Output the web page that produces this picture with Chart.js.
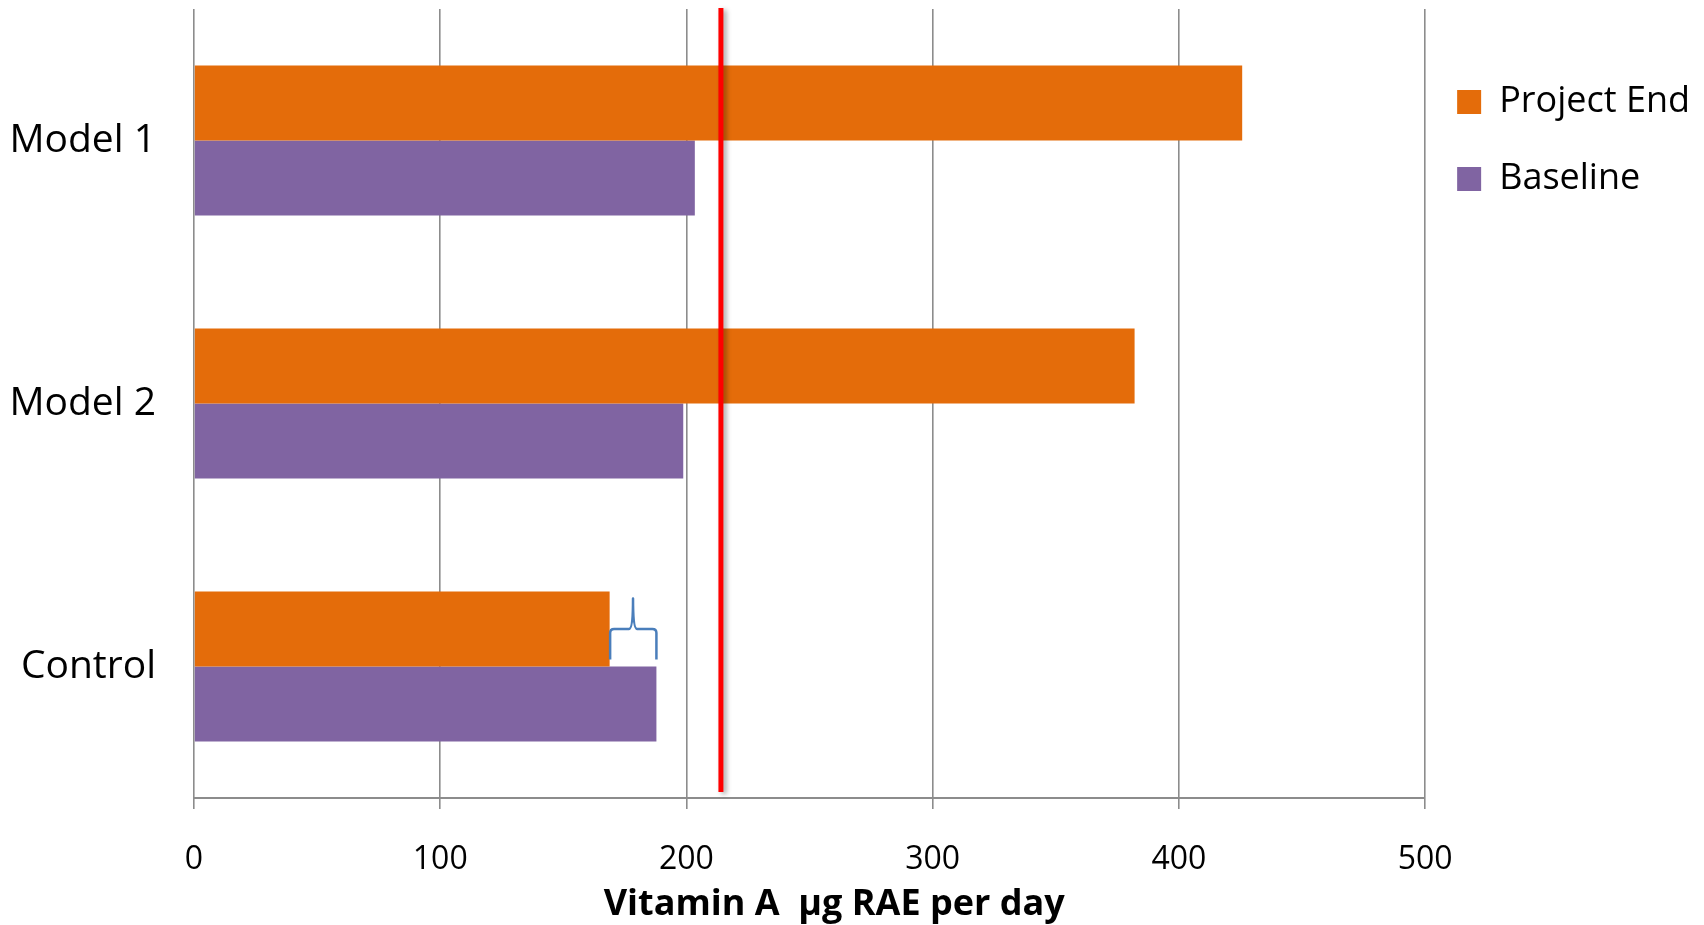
<!DOCTYPE html>
<html>
<head>
<meta charset="utf-8">
<script src="https://cdn.jsdelivr.net/npm/chart.js@4/dist/chart.umd.min.js"></script>
<style>
  html, body { margin: 0; padding: 0; background: #ffffff; }
  #wrap { width: 1704px; height: 925px; position: relative; }
</style>
</head>
<body>
<div id="wrap"><canvas id="chart" width="1704" height="925"></canvas></div>
<script>
// Vitamin A intake by group, µg RAE per day
const categories = ['Model 1', 'Model 2', 'Control'];
const projectEnd = [425.7, 382.0, 168.8];
const baseline = [203.4, 198.7, 187.8];
const xTicks = [0, 100, 200, 300, 400, 500];
const referenceValue = 214;
const axisTitle = 'Vitamin A  µg RAE per day';
const seriesNames = ['Project End', 'Baseline'];

const FONT = '"Open Sans", "DejaVu Sans", sans-serif';
const GRID = '#8c8c8c';

// Red reference line, the brace between the two Control bars, and the axis title
const overlays = {
  id: 'overlays',
  afterLayout(chart) {
    // place the legend beside the top category
    const lg = chart.legend;
    if (lg) { lg.top += 34; lg.bottom += 34; lg.left -= 9; lg.right -= 9; }
  },
  afterDatasetsDraw(chart) {
    const { ctx, chartArea, scales } = chart;
    const x = scales.x;

    // reference line
    const rx = x.getPixelForValue(referenceValue);
    ctx.save();
    ctx.shadowColor = 'rgba(0,0,0,0.35)';
    ctx.shadowBlur = 5;
    ctx.shadowOffsetX = 3;
    ctx.shadowOffsetY = 2;
    ctx.strokeStyle = '#ff0000';
    ctx.lineWidth = 5;
    ctx.beginPath();
    ctx.moveTo(rx, chartArea.top - 1);
    ctx.lineTo(rx, chartArea.bottom - 6);
    ctx.stroke();
    ctx.restore();

    // curly brace spanning the Control change
    const ci = categories.indexOf('Control');
    const bar = chart.getDatasetMeta(0).data[ci];
    const x1 = x.getPixelForValue(projectEnd[ci]);
    const x2 = x.getPixelForValue(baseline[ci]);
    const top = bar.y - bar.height / 2 + 7;
    const bot = bar.y + bar.height / 2 - 7;
    const mid = bar.y;
    const cx = (x1 + x2) / 2;
    const r = 4;
    ctx.save();
    ctx.strokeStyle = '#4a7ebb';
    ctx.lineWidth = 2.5;
    ctx.lineJoin = 'round';
    ctx.beginPath();
    ctx.moveTo(x1 + 0.5, bot);
    ctx.lineTo(x1 + 0.5, mid + r);
    ctx.quadraticCurveTo(x1 + 0.5, mid, x1 + r + 0.5, mid);
    ctx.lineTo(cx - r, mid);
    ctx.quadraticCurveTo(cx, mid, cx, top);
    ctx.quadraticCurveTo(cx, mid, cx + r, mid);
    ctx.lineTo(x2 - r, mid);
    ctx.quadraticCurveTo(x2, mid, x2, mid + r);
    ctx.lineTo(x2, bot);
    ctx.stroke();
    ctx.restore();
  },
  afterDraw(chart) {
    const { ctx, chartArea } = chart;
    ctx.save();
    ctx.font = 'bold 36px ' + FONT;
    ctx.fillStyle = '#000000';
    ctx.textAlign = 'center';
    ctx.textBaseline = 'alphabetic';
    ctx.fillText(axisTitle, chartArea.left + chartArea.width * 0.52, chartArea.bottom + 117);
    ctx.restore();
  }
};

new Chart(document.getElementById('chart'), {
  type: 'bar',
  data: {
    labels: categories,
    datasets: [
      { label: seriesNames[0], data: projectEnd, backgroundColor: '#e46c0a', borderWidth: 0 },
      { label: seriesNames[1], data: baseline, backgroundColor: '#8064a2', borderWidth: 0 }
    ]
  },
  options: {
    indexAxis: 'y',
    responsive: false,
    animation: false,
    events: [],
    categoryPercentage: 0.57,
    barPercentage: 1.0,
    layout: { padding: { top: 9, left: 0, right: -5, bottom: 0 } },
    scales: {
      x: {
        type: 'linear',
        position: 'bottom',
        min: 0,
        max: 500,
        afterBuildTicks(scale) { scale.ticks = xTicks.map(v => ({ value: v })); },
        afterFit(scale) {
          scale.height = 127;
          scale.paddingLeft = 0; scale.paddingRight = 0;
        },
        grid: { color: GRID, lineWidth: 1.6, drawTicks: true, tickLength: 11, tickColor: GRID },
        border: { display: true, color: GRID, width: 2 },
        ticks: { color: '#000000', font: { family: FONT, size: 32 }, padding: 32 }
      },
      y: {
        afterFit(scale) {
          scale.width = 194;
          scale.paddingTop = 0; scale.paddingBottom = 0;
        },
        grid: { display: false, drawTicks: true, tickLength: 0 },
        border: { display: false },
        ticks: { color: '#000000', font: { family: FONT, size: 39 }, padding: 38 }
      }
    },
    plugins: {
      tooltip: { enabled: false },
      legend: {
        position: 'right',
        align: 'start',
        labels: {
          boxWidth: 24,
          boxHeight: 24,
          padding: 41,
          color: '#000000',
          font: { family: FONT, size: 36 }
        }
      }
    }
  },
  plugins: [overlays]
});
</script>
</body>
</html>
